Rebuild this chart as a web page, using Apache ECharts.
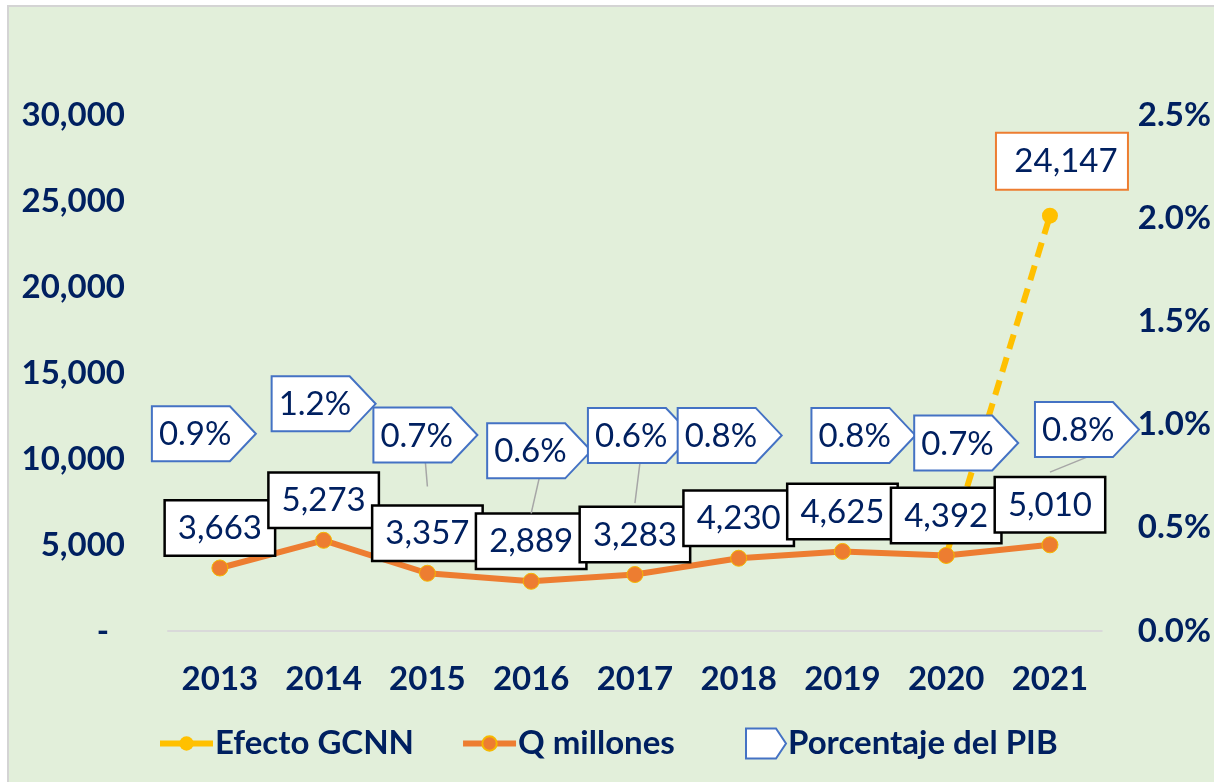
<!DOCTYPE html>
<html>
<head>
<meta charset="utf-8">
<script src="https://cdn.jsdelivr.net/npm/echarts@6/dist/echarts.min.js"></script>
<style>
html,body{margin:0;padding:0;background:#fff;}
#c{width:1214px;height:782px;}
</style>
</head>
<body>
<div id="c"></div>
<script>
// ---- data ----
var years = ['2013','2014','2015','2016','2017','2018','2019','2020','2021'];
var qMillones = [3663, 5273, 3357, 2889, 3283, 4230, 4625, 4392, 5010];
var efectoGCNN = [null, null, null, null, null, null, null, 4392, 24147];
var pctPIB = [0.009, 0.012, 0.007, 0.0057, 0.0062, 0.008, 0.008, 0.007, 0.0077];
var leftTicks = [0, 5000, 10000, 15000, 20000, 25000, 30000];
var rightTicks = [0, 0.005, 0.01, 0.015, 0.02, 0.025];

// label box placement (style only): [dx, dy of box top-left relative to point, leader line?]
var pctBoxLayout = [
  [-68, -39, 0], [-52, -7, 0], [-54, -79, 1], [-44, -90, 1], [-47, -95, 1],
  [-61, -58, 0], [-31, -58, 0], [-32, -71, 0], [-15, -70, 1]
];

var NAVY = '#002060';
var FONT = 'Lato';
function fmtNum(v){ return Number(v).toLocaleString('en-US'); }
function fmtPct(v){ return (v*100).toFixed(1) + '%'; }

var chart = echarts.init(document.getElementById('c'));
var pentagon = 'path://M0,0 L30,0 L40,15 L30,30 L0,30 Z';

var option = {
  backgroundColor: '#ffffff',
  animation: false,
  graphic: [{
    type: 'rect', z: -100, silent: true,
    shape: {x: 8, y: 6, width: 1220, height: 790},
    style: {fill: '#E2EFDA', stroke: '#D4D4D4', lineWidth: 2}
  }],
  grid: {left: 168, right: 112, top: 115, bottom: 151, containLabel: false},
  legend: [{
    left: 152, top: 722, itemWidth: 53, itemHeight: 18, itemGap: 46,
    lineStyle: {type: 'solid', width: 6},
    textStyle: {color: NAVY, fontFamily: FONT, fontWeight: 'bold', fontSize: 33, padding: [0,0,0,-3]},
    data: ['Efecto GCNN', 'Q millones']
  }, {
    left: 740, top: 722, itemWidth: 40, itemHeight: 30,
    textStyle: {color: NAVY, fontFamily: FONT, fontWeight: 'bold', fontSize: 33, padding: [0,0,0,-3]},
    data: [{name: 'Porcentaje del PIB', icon: pentagon,
            itemStyle: {color: '#ffffff', borderColor: '#4472C4', borderWidth: 2}}]
  }],
  xAxis: {
    type: 'category', data: years, boundaryGap: true,
    axisLine: {show: true, lineStyle: {color: '#D9D9D9', width: 2}},
    axisTick: {show: false},
    axisLabel: {color: NAVY, fontFamily: FONT, fontWeight: 'bold', fontSize: 33, margin: 32}
  },
  yAxis: [{
    type: 'value', min: leftTicks[0], max: leftTicks[leftTicks.length-1], interval: leftTicks[1]-leftTicks[0],
    splitLine: {show: false}, axisLine: {show: false}, axisTick: {show: false},
    axisLabel: {color: NAVY, fontFamily: FONT, fontWeight: 'bold', fontSize: 33, margin: 43,
      formatter: function(v){ return v === 0 ? '-  ' : fmtNum(v); }}
  }, {
    type: 'value', min: rightTicks[0], max: rightTicks[rightTicks.length-1], interval: rightTicks[1]-rightTicks[0],
    splitLine: {show: false}, axisLine: {show: false}, axisTick: {show: false},
    axisLabel: {color: NAVY, fontFamily: FONT, fontWeight: 'bold', fontSize: 33, margin: 36,
      formatter: function(v){ return fmtPct(v); }}
  }],
  series: [{
    name: 'Efecto GCNN', type: 'line', yAxisIndex: 0, z: 2,
    data: efectoGCNN.map(function(v, i){
      if (i === efectoGCNN.length - 1) {
        return {value: v, label: {show: true}};
      }
      return v;
    }),
    symbol: 'circle', symbolSize: 16, showAllSymbol: true,
    itemStyle: {color: '#FFC000'},
    lineStyle: {color: '#FFC000', width: 6, type: [15, 9]},
    label: {
      show: false, position: 'top', distance: 19, offset: [12, 0],
      formatter: function(p){ return fmtNum(p.value); },
      color: NAVY, fontFamily: FONT, fontSize: 33, lineHeight: 35,
      backgroundColor: '#ffffff', borderColor: '#ED7D31', borderWidth: 2,
      padding: [10, 10, 10, 18], width: 102, align: 'center'
    }
  }, {
    name: 'Q millones', type: 'line', yAxisIndex: 0, z: 3,
    data: qMillones,
    symbol: 'circle', symbolSize: 16,
    itemStyle: {color: '#ED7D31', borderColor: '#F5B800', borderWidth: 1},
    lineStyle: {color: '#ED7D31', width: 6},
    label: {
      show: true, position: 'top', distance: 5,
      formatter: function(p){ return fmtNum(p.value); },
      color: NAVY, fontFamily: FONT, fontSize: 33, lineHeight: 34,
      backgroundColor: '#ffffff', borderColor: '#000000', borderWidth: 2.5,
      padding: [10, 12, 9, 12], width: 84, align: 'center'
    }
  }, {
    name: 'Porcentaje del PIB', type: 'custom', yAxisIndex: 1, z: 10,
    data: pctPIB.map(function(v, i){ return [i, v]; }),
    itemStyle: {color: '#ffffff', borderColor: '#4472C4'},
    renderItem: function(params, api){
      var i = params.dataIndex;
      var pt = api.coord([api.value(0), api.value(1)]);
      var lay = pctBoxLayout[i];
      var x = pt[0] + lay[0], y = pt[1] + lay[1];
      var w = 78, tip = 26, h = 55;
      var children = [];
      if (lay[2]) {
        children.push({type: 'line', shape: {x1: x + 52, y1: y + h, x2: pt[0], y2: pt[1]},
          style: {stroke: '#A6A6A6', lineWidth: 1.5}});
      }
      children.push({type: 'polygon',
        shape: {points: [[x, y], [x + w, y], [x + w + tip, y + h/2], [x + w, y + h], [x, y + h]]},
        style: {fill: '#ffffff', stroke: '#4472C4', lineWidth: 2}});
      children.push({type: 'text',
        style: {text: fmtPct(api.value(1)), x: x + 7, y: y + h/2 + 1, verticalAlign: 'middle', align: 'left',
          fill: NAVY, font: '33px ' + FONT}});
      return {type: 'group', children: children};
    }
  }]
};
chart.setOption(option);
</script>
</body>
</html>
